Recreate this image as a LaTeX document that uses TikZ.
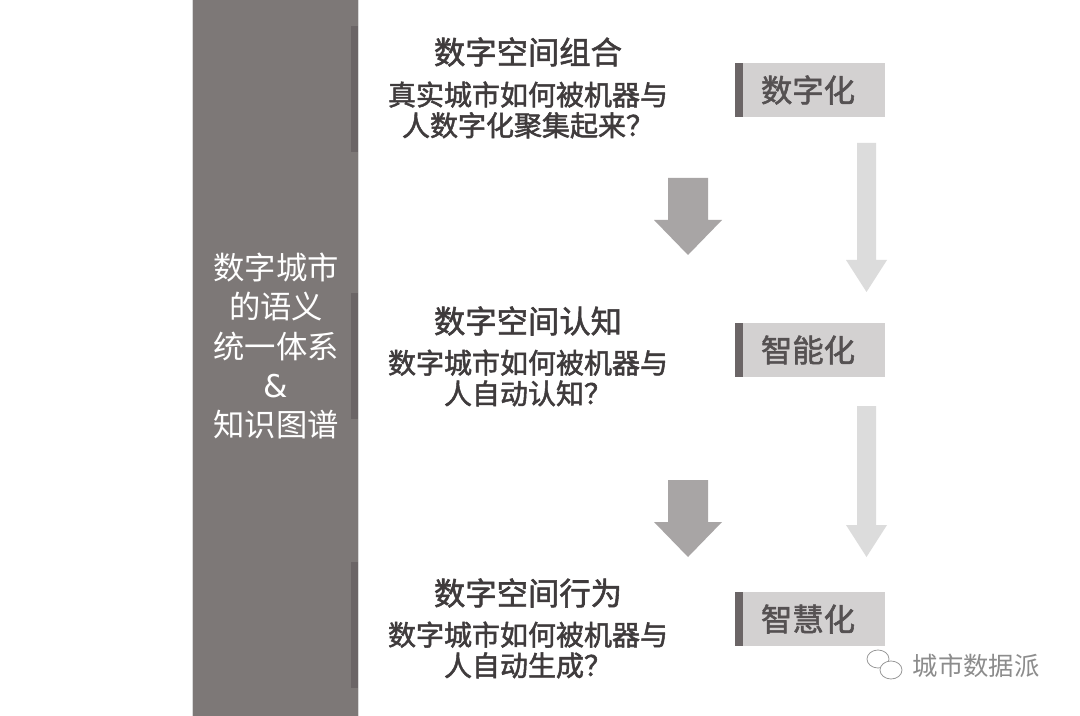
\documentclass[tikz,border=0pt]{standalone}
\usepackage{fontspec}
\setmainfont{Noto Sans CJK SC}
\newfontfamily\med[FakeBold=1.8]{Noto Sans CJK SC}
\newfontfamily\myamp{DejaVu Sans}
\definecolor{barc}{HTML}{7D7877}
\definecolor{stripc}{HTML}{6B6566}
\definecolor{boxc}{HTML}{D3D1D1}
\definecolor{boxt}{HTML}{555152}
\definecolor{txt}{HTML}{3F3B3C}
\definecolor{darr}{HTML}{A8A5A5}
\definecolor{larr}{HTML}{DCDCDC}
\begin{document}
\begin{tikzpicture}[x=0.75pt,y=-0.75pt,
  ttl/.style={font=\fontsize{23.5}{26}\selectfont\med, text=txt},
  sub/.style={font=\fontsize{21}{23}\selectfont\med, text=txt, align=center},
  lab/.style={font=\fontsize{23.5}{26}\selectfont\med, text=boxt, anchor=center}]
\useasboundingbox (0,0) rectangle (1080,716);
\fill[white] (0,0) rectangle (1080,716);
% left bar
\fill[barc] (192,0) rectangle (358,716);
\draw[white!85!black, line width=0.5pt] (192,0) -- (192,716) (358,0)--(358,716);
\foreach \a/\b in {26/152, 293/419, 562/688} \fill[stripc] (351,\a) rectangle (358,\b);
\node[font=\fontsize{23.5}{29.5}\selectfont, text=white, align=center] (bar) at (276,346)
 {数字城市\\的语义\\统一体系\\{\myamp\&}\\知识图谱};
% texts
\node[ttl] (t1) at (528,52) {数字空间组合};
\node[sub] (s1) at (528,110) {真实城市如何被机器与\\人数字化聚集起来？};
\node[ttl] (t2) at (528,321) {数字空间认知};
\node[sub] (s2) at (528,378) {数字城市如何被机器与\\人自动认知？};
\node[ttl] (t3) at (528,593) {数字空间行为};
\node[sub] (s3) at (528,650) {数字城市如何被机器与\\人自动生成？};
% label boxes
\foreach \y/\t/\n in {63/数字化/b1, 323/智能化/b2, 592/智慧化/b3}{
  \fill[boxc] (735,\y) rectangle (885,\y+54);
  \fill[stripc] (735,\y) rectangle (743,\y+54);
  \node[lab] (\n) at (808,\y+27) {\t};
}
% dark arrows
\foreach \a in {178,480}{
  \fill[darr] (668,\a) -- (708,\a) -- (708,\a+42) -- (722,\a+42) -- (688,\a+77) -- (654,\a+42) -- (668,\a+42) -- cycle;
}
% light arrows
\foreach \a/\b in {143/292, 406/557}{
  \fill[larr] (857,\a) -- (876,\a) -- (876,\b-32) -- (887,\b-32) -- (866.5,\b) -- (846,\b-32) -- (857,\b-32) -- cycle;
}
% watermark
\node[font=\fontsize{19}{21}\selectfont, text=black!45, anchor=west] (wm) at (908,666) {城市数据派};
\begin{scope}[black!40, line width=0.6pt]
\draw (878,659) ellipse (11 and 9);
\draw[fill=white] (891,670) ellipse (11 and 9);
\end{scope}
\end{tikzpicture}
\end{document}
